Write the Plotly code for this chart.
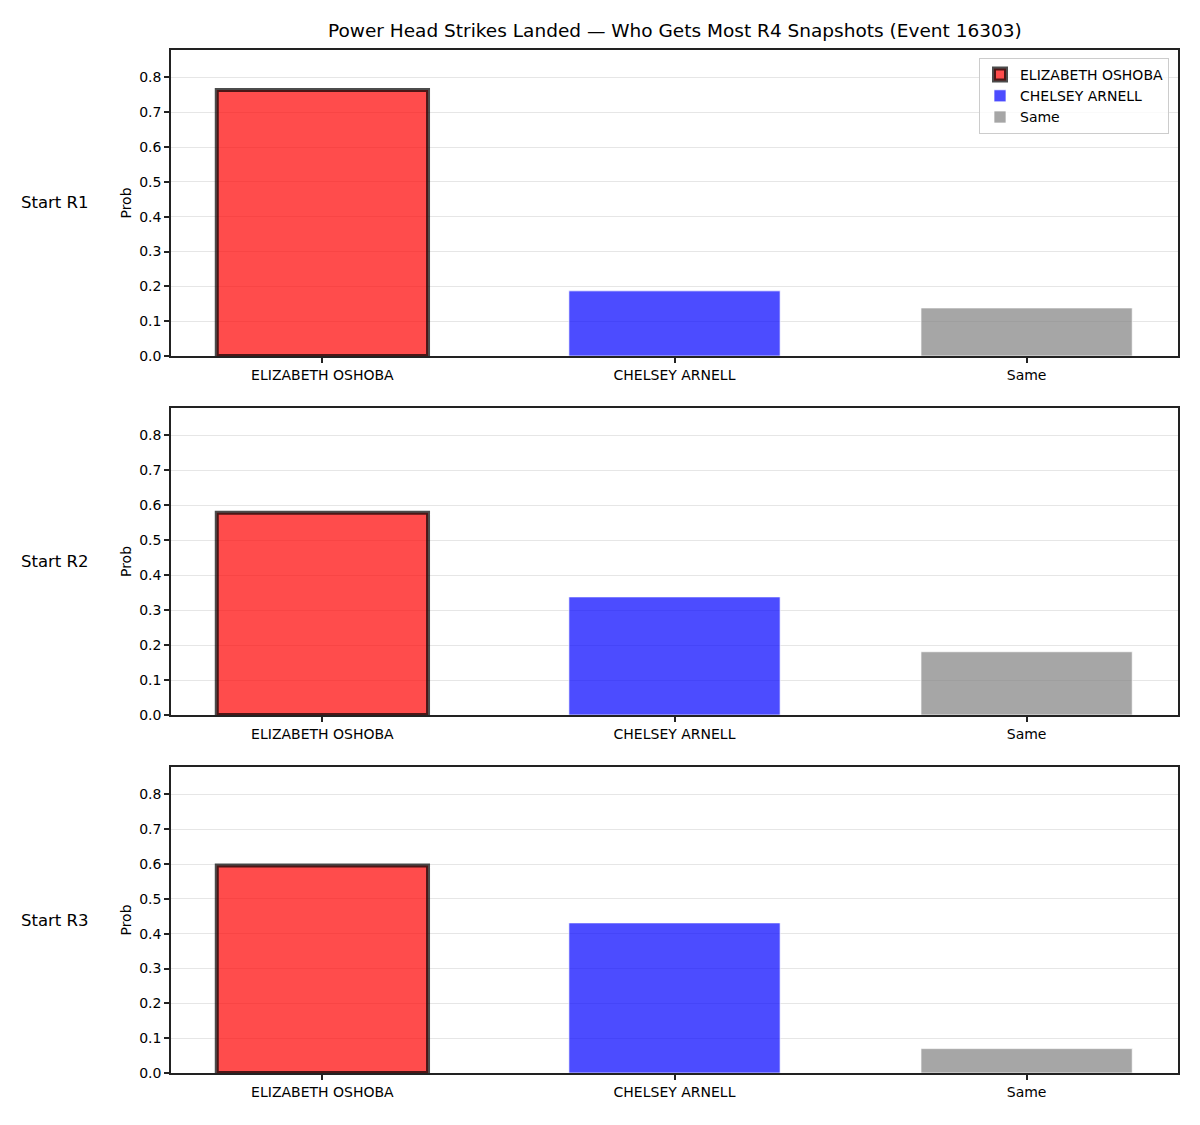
import plotly.graph_objects as go

categories = ["ELIZABETH OSHOBA", "CHELSEY ARNELL", "Same"]
panel_labels = ["Start R1", "Start R2", "Start R3"]
probs_r1 = [0.764, 0.187, 0.138]
probs_r2 = [0.579, 0.338, 0.181]
probs_r3 = [0.596, 0.431, 0.070]
all_probs = [probs_r1, probs_r2, probs_r3]
yticks = [0.0, 0.1, 0.2, 0.3, 0.4, 0.5, 0.6, 0.7, 0.8]
title = "Power Head Strikes Landed — Who Gets Most R4 Snapshots (Event 16303)"

fills = ["rgba(255,0,0,0.7)", "rgba(0,0,255,0.7)", "rgba(128,128,128,0.7)"]
edges = ["rgba(0,0,0,0.7)", "rgba(255,255,255,0.7)", "rgba(255,255,255,0.7)"]
edge_w = [4, 1, 1]

W, H = 1200, 1125
ml, mr, mt, mb = 171, 22, 50, 52
ph = H - mt - mb
panel_px = [(50, 356), (408, 715), (767, 1073)]
ymax = max(probs_r1) * 1.15

fig = go.Figure()
font = "DejaVu Sans, sans-serif"
for i, probs in enumerate(all_probs):
    n = i + 1
    xa = "x" if n == 1 else f"x{n}"
    ya = "y" if n == 1 else f"y{n}"
    for j, cat in enumerate(categories):
        fig.add_trace(go.Bar(
            x=[j], y=[probs[j]], name=cat, width=0.6,
            marker=dict(color=fills[j], line=dict(color=edges[j], width=edge_w[j])),
            xaxis=xa, yaxis=ya, showlegend=(i == 0),
        ))
    top, bot = panel_px[i]
    dom = [(H - mb - bot) / ph, (H - mb - top) / ph]
    fig.layout[("xaxis" if n == 1 else f"xaxis{n}")] = dict(
        domain=[0, 1], anchor=ya, range=[-0.43, 2.43],
        tickmode="array", tickvals=[0, 1, 2], ticktext=categories,
        showgrid=False, zeroline=False, showline=True, linecolor="#222", linewidth=1.5,
        mirror=True, ticks="outside", ticklen=5, tickwidth=1.5, tickcolor="#222",
        tickfont=dict(size=14, color="black", family=font),
    )
    fig.layout[("yaxis" if n == 1 else f"yaxis{n}")] = dict(
        domain=dom, anchor=xa, range=[0, ymax],
        tickmode="array", tickvals=yticks, ticktext=[f"{v:.1f}" for v in yticks],
        showgrid=True, gridcolor="#e6e6e6", gridwidth=1, zeroline=False,
        showline=True, linecolor="#222", linewidth=1.5, mirror=True,
        ticks="outside", ticklen=5, tickwidth=1.5, tickcolor="#222",
        tickfont=dict(size=14, color="black", family=font),
        title=dict(text="Prob", font=dict(size=14, color="black", family=font), standoff=4),
    )
    fig.add_annotation(
        text=panel_labels[i], xref="paper", yref="paper",
        x=(91 - ml) / (W - ml - mr), y=(dom[0] + dom[1]) / 2,
        xanchor="right", yanchor="middle", showarrow=False,
        font=dict(size=16.5, color="black", family=font),
    )

fig.add_annotation(
    text=title, xref="paper", yref="paper", x=0.5, y=(H - mb - 30) / ph,
    xanchor="center", yanchor="middle", showarrow=False,
    font=dict(size=18.5, color="black", family=font),
)

fig.update_layout(
    width=W, height=H, margin=dict(l=ml, r=mr, t=mt, b=mb),
    paper_bgcolor="white", plot_bgcolor="white", barmode="overlay",
    font=dict(family=font, color="black"),
    legend=dict(
        x=(1169 - ml) / (W - ml - mr), y=(H - mb - 58) / ph,
        xanchor="right", yanchor="top", bgcolor="rgba(255,255,255,0.8)",
        bordercolor="#cccccc", borderwidth=1, itemwidth=30,
        font=dict(size=14, color="black", family=font),
        tracegroupgap=0,
    ),
)

fig.write_html("out.html")
